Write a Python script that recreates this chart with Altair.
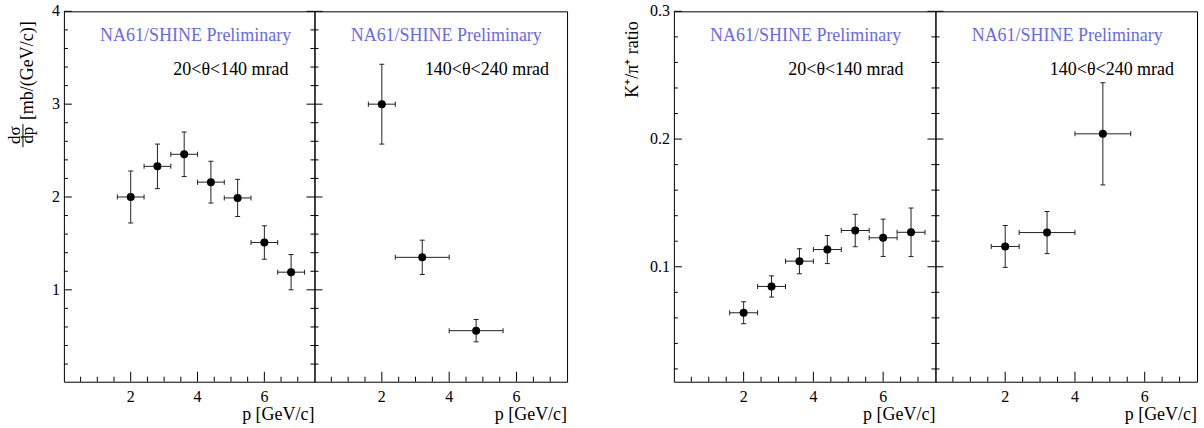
import altair as alt
import pandas as pd

# ---------------- data ----------------
p_lo = [2.0, 2.8, 3.6, 4.4, 5.2, 6.0, 6.8]
p_lo_err = [0.4, 0.4, 0.4, 0.4, 0.4, 0.4, 0.4]
p_hi = [2.0, 3.2, 4.8]
p_hi_err = [0.4, 0.8, 0.8]

xsec_lo = [2.00, 2.33, 2.46, 2.16, 1.99, 1.51, 1.19]
xsec_lo_err = [0.28, 0.24, 0.24, 0.225, 0.20, 0.18, 0.19]
xsec_hi = [3.00, 1.35, 0.56]
xsec_hi_err = [0.43, 0.185, 0.12]

ratio_lo = [0.064, 0.0846, 0.1044, 0.1135, 0.1284, 0.1227, 0.127]
ratio_lo_err = [0.0086, 0.0083, 0.0098, 0.011, 0.0127, 0.0146, 0.019]
ratio_hi = [0.1159, 0.1268, 0.2041]
ratio_hi_err = [0.0164, 0.0165, 0.040]

x_major = [2, 4, 6]
x_major_labels = ["2", "4", "6"]
x_minor = [0.5, 1.0, 1.5, 2.5, 3.0, 3.5, 4.5, 5.0, 5.5, 6.5, 7.0]
xsec_major = [1, 2, 3, 4]
xsec_major_labels = ["1", "2", "3", "4"]
xsec_minor = [0.2, 0.4, 0.6, 0.8, 1.2, 1.4, 1.6, 1.8, 2.2, 2.4, 2.6, 2.8,
              3.2, 3.4, 3.6, 3.8]
ratio_major = [0.1, 0.2, 0.3]
ratio_major_labels = ["0.1", "0.2", "0.3"]
ratio_minor = [0.02, 0.04, 0.06, 0.08, 0.12, 0.14, 0.16, 0.18, 0.22, 0.24,
               0.26, 0.28]

range_lo = "20<θ<140 mrad"
range_hi = "140<θ<240 mrad"
prelim = "NA61/SHINE Preliminary"

H = 371
FONT = "Liberation Serif"
BLUE = "#6a6ae8"
one = pd.DataFrame({"d": [0]})


def frame_rule(x, y0, y1):
    # invisible guide fixing the outer bounds of the whole figure
    return alt.Chart(one).mark_rule(opacity=0, strokeWidth=0.01).encode(
        x=alt.value(x), y=alt.value(y0), y2=alt.value(y1))


def txt(text, x, y, size=18, color="black", align="left", baseline="middle",
        angle=0):
    return alt.Chart(one).mark_text(
        text=text, font=FONT, fontSize=size, color=color, align=align,
        baseline=baseline, angle=angle).encode(x=alt.value(x), y=alt.value(y))


def panel(p, pe, v, ve, ydom, ymaj, ymaj_lab, ymin, width, rng_text, rng_x,
          ylabels, right_ticks, extra):
    xs = alt.Scale(domain=[0, 7.5], nice=False, zero=False)
    ys = alt.Scale(domain=ydom, nice=False, zero=False)
    df = pd.DataFrame({"p": p, "pe": pe, "v": v, "ve": ve})
    df["plo"] = df["p"] - df["pe"]
    df["phi"] = df["p"] + df["pe"]
    df["vlo"] = df["v"] - df["ve"]
    df["vhi"] = df["v"] + df["ve"]
    base = alt.Chart(df)
    hbar = base.mark_rule(color="#222", strokeWidth=1).encode(
        x=alt.X("plo:Q", scale=xs, axis=None), x2="phi:Q",
        y=alt.Y("v:Q", scale=ys, axis=None))
    vbar = base.mark_rule(color="#222", strokeWidth=1).encode(
        x=alt.X("p:Q", scale=xs, axis=None),
        y=alt.Y("vlo:Q", scale=ys, axis=None), y2="vhi:Q")
    caps_h = pd.DataFrame({"x": list(df["plo"]) + list(df["phi"]),
                           "y": list(df["v"]) + list(df["v"])})
    caps_v = pd.DataFrame({"x": list(df["p"]) + list(df["p"]),
                           "y": list(df["vlo"]) + list(df["vhi"])})
    ch = alt.Chart(caps_h).mark_tick(orient="vertical", size=5, thickness=1,
                                     color="#222", opacity=1).encode(
        x=alt.X("x:Q", scale=xs, axis=None), y=alt.Y("y:Q", scale=ys, axis=None))
    cv = alt.Chart(caps_v).mark_tick(orient="horizontal", size=5, thickness=1,
                                     color="#222", opacity=1).encode(
        x=alt.X("x:Q", scale=xs, axis=None), y=alt.Y("y:Q", scale=ys, axis=None))
    pts = base.mark_circle(size=64, color="black", opacity=1).encode(
        x=alt.X("p:Q", scale=xs, axis=None), y=alt.Y("v:Q", scale=ys, axis=None))

    def xt(vals, ln):
        return alt.Chart(pd.DataFrame({"t": vals})).mark_rule(
            color="black", strokeWidth=1).encode(
            x=alt.X("t:Q", scale=xs, axis=None),
            y=alt.value(H), y2=alt.value(H - ln))

    def yt(vals, x0, x1):
        return alt.Chart(pd.DataFrame({"t": vals})).mark_rule(
            color="black", strokeWidth=1).encode(
            y=alt.Y("t:Q", scale=ys, axis=None),
            x=alt.value(x0), x2=alt.value(x1))

    xlab = alt.Chart(pd.DataFrame({"t": x_major, "s": x_major_labels})).mark_text(
        font=FONT, fontSize=16, color="black", align="center", baseline="top"
    ).encode(x=alt.X("t:Q", scale=xs, axis=None), y=alt.value(H + 7), text="s:N")

    layers = [hbar, vbar, ch, cv, pts,
              xt(x_major, 10), xt(x_minor, 5),
              yt(ymaj, 0, 8), yt(ymin, 0, 4), xlab]
    if right_ticks:
        layers += [yt(ymaj, width - 8, width), yt(ymin, width - 4, width)]
    if ylabels:
        layers.append(
            alt.Chart(pd.DataFrame({"t": ymaj, "s": ymaj_lab})).mark_text(
                font=FONT, fontSize=16, color="black", align="right",
                baseline="middle").encode(
                y=alt.Y("t:Q", scale=ys, axis=None), x=alt.value(-4),
                text="s:N"))
    layers += [
        txt(prelim, 132, 25, color=BLUE, align="center"),
        txt(rng_text, rng_x, 59, align="right"),
        txt("p [GeV/c]", width, H + 38, align="right", baseline="alphabetic"),
    ]
    layers += extra
    return alt.layer(*layers).properties(width=width, height=H)


xsec_title = [
    txt("[mb/(GeV/c)]", -31, 10, align="right", baseline="alphabetic", angle=270),
    txt("dσ", -44, 124, 17, align="center", baseline="alphabetic", angle=270),
    txt("dp", -31, 124, 17, align="center", baseline="alphabetic", angle=270),
    alt.Chart(one).mark_rule(color="black", strokeWidth=1).encode(
        x=alt.value(-41), y=alt.value(113), y2=alt.value(136)),
    frame_rule(-63, -10, H + 47),
]
ratio_title = [txt("K⁺/π⁺ ratio", -36, 10, align="right", baseline="alphabetic",
                   angle=270)]

p1 = panel(p_lo, p_lo_err, xsec_lo, xsec_lo_err, [0.01, 4], xsec_major,
           xsec_major_labels, xsec_minor, 251, range_lo, 225, True, True,
           xsec_title)
p2 = panel(p_hi, p_hi_err, xsec_hi, xsec_hi_err, [0.01, 4], xsec_major,
           xsec_major_labels, xsec_minor, 253, range_hi, 235, False, False, [])
p3 = panel(p_lo, p_lo_err, ratio_lo, ratio_lo_err, [0.01, 0.3], ratio_major,
           ratio_major_labels, ratio_minor, 262, range_lo, 230, True, True,
           ratio_title)
p4 = panel(p_hi, p_hi_err, ratio_hi, ratio_hi_err, [0.01, 0.3], ratio_major,
           ratio_major_labels, ratio_minor, 262, range_hi, 239, False, False,
           [frame_rule(262 + 6, -10, H + 47)])

spacer = alt.Chart(one).mark_point(opacity=0).encode(
    x=alt.value(0), y=alt.value(0)).properties(
    width=107, height=H, view=alt.ViewBackground(stroke="transparent"))

chart = alt.hconcat(p1, p2, spacer, p3, p4, spacing=0, bounds="flush").properties(
    padding=0,
).configure(font=FONT).configure_view(stroke="black", strokeWidth=1)

chart.save("out.html", embed_options={"renderer": "svg", "actions": False})
